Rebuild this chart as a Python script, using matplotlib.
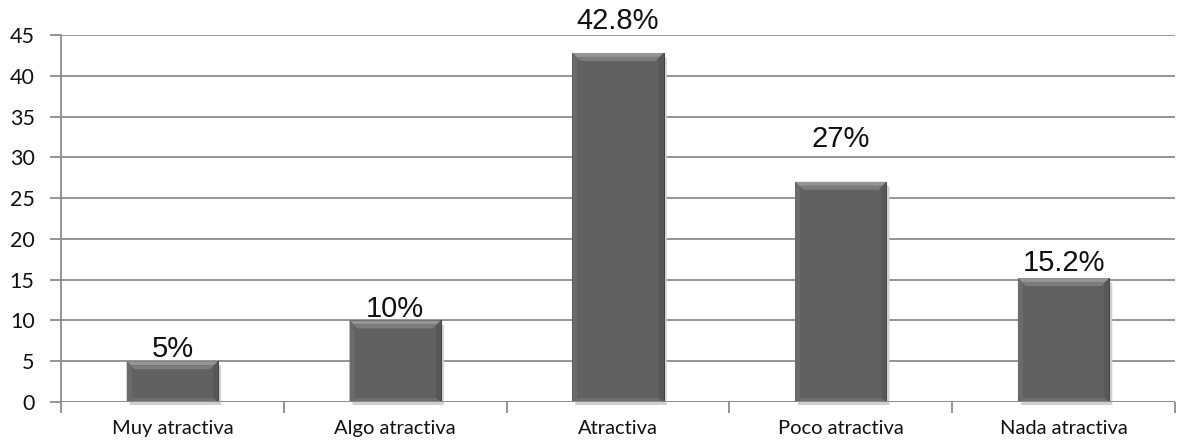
import matplotlib
matplotlib.use("Agg")
import matplotlib.pyplot as plt
from matplotlib.patches import Polygon
import numpy as np

categories = ["Muy atractiva", "Algo atractiva", "Atractiva", "Poco atractiva", "Nada atractiva"]
values = [5, 10, 42.8, 27, 15.2]
labels = ["5%", "10%", "42.8%", "27%", "15.2%"]
yticks = [0, 5, 10, 15, 20, 25, 30, 35, 40, 45]
# gap (pixels) between each bar top and its value label
label_gap_px = [4, 3, 24, 35, 7]

W, H = 1177, 447
fig = plt.figure(figsize=(W / 100, H / 100), dpi=100)
ax = fig.add_axes([61 / W, 45 / H, (1175 - 61) / W, (402 - 35) / H])

n = len(categories)
x = np.arange(n)
ax.set_xlim(-0.5, n - 0.5)
ax.set_ylim(0, 45)

grid_c = "#8c8c8c"
for yt in yticks:
    ax.axhline(yt, color=grid_c, lw=1.3, zorder=1)

bar_w = 0.41
bars = ax.bar(x, values, width=bar_w, color="#616161", edgecolor="#404040",
              linewidth=0.7, zorder=3)

# bevel shading drawn in pixel units on top of each bar
fig.canvas.draw()
inv = ax.transData.inverted()
for b in bars:
    x0, y0 = b.get_x(), b.get_y()
    x1, y1 = x0 + b.get_width(), y0 + b.get_height()
    (px0, py0) = ax.transData.transform((x0, y0))
    (px1, py1) = ax.transData.transform((x1, y1))
    shapes = []
    # top bevel: two bands, lighter at the edge
    for d0, d1, col in ((0, 4, "#959595"), (4, 8, "#7c7c7c")):
        shapes.append(([(px0 + d0, py1 - d0), (px1 - d0, py1 - d0),
                        (px1 - d1, py1 - d1), (px0 + d1, py1 - d1)], col))
    # side bevels
    shapes.append(([(px0, py1), (px0 + 5, py1 - 5), (px0 + 5, py0 + 4), (px0, py0)], "#6b6b6b"))
    shapes.append(([(px1, py1), (px1 - 5, py1 - 5), (px1 - 5, py0 + 4), (px1, py0)], "#575757"))
    # bottom bevel
    shapes.append(([(px0, py0), (px1, py0), (px1 - 5, py0 + 4), (px0 + 5, py0 + 4)], "#6e6e6e"))
    for pts, col in shapes:
        ax.add_patch(Polygon(inv.transform(pts), closed=True, facecolor=col,
                             edgecolor="none", zorder=4))
    # soft shadow on the right and below
    sh = [(px1, py1 - 3), (px1 + 3, py1 - 5), (px1 + 3, py0 - 3), (px0 + 3, py0 - 3), (px0 + 3, py0)]
    ax.add_patch(Polygon(inv.transform(sh), closed=True, facecolor="#cfcfcf",
                         edgecolor="none", zorder=2, clip_on=False))

for xi, v, lab, g in zip(x, values, labels, label_gap_px):
    px, py = ax.transData.transform((xi, v))
    tx, ty = inv.transform((px, py + g))
    ax.text(tx, ty, lab, ha="center", va="baseline", fontsize=21,
            family="Liberation Sans", color="#111111", clip_on=False, zorder=5)

for s in ("top", "right", "bottom"):
    ax.spines[s].set_visible(False)
ax.spines["left"].set_color(grid_c)
ax.spines["left"].set_linewidth(1.3)
ax.set_yticks(yticks)
ax.set_yticklabels([str(t) for t in yticks], fontsize=15.5, family="Lato", color="#111111")
ax.tick_params(axis="y", length=8, width=1.3, color=grid_c, pad=11)

ax.set_xticks(x)
ax.set_xticklabels(categories, fontsize=14.5, family="Lato", color="#111111")
ax.tick_params(axis="x", length=0, pad=13)
ax.set_xticks(np.arange(-0.5, n, 1.0), minor=True)
ax.tick_params(axis="x", which="minor", length=8, width=1.3, color=grid_c, direction="out")
ax.axhline(0, color=grid_c, lw=1.3, zorder=6)

fig.savefig("out.png", dpi=100)
